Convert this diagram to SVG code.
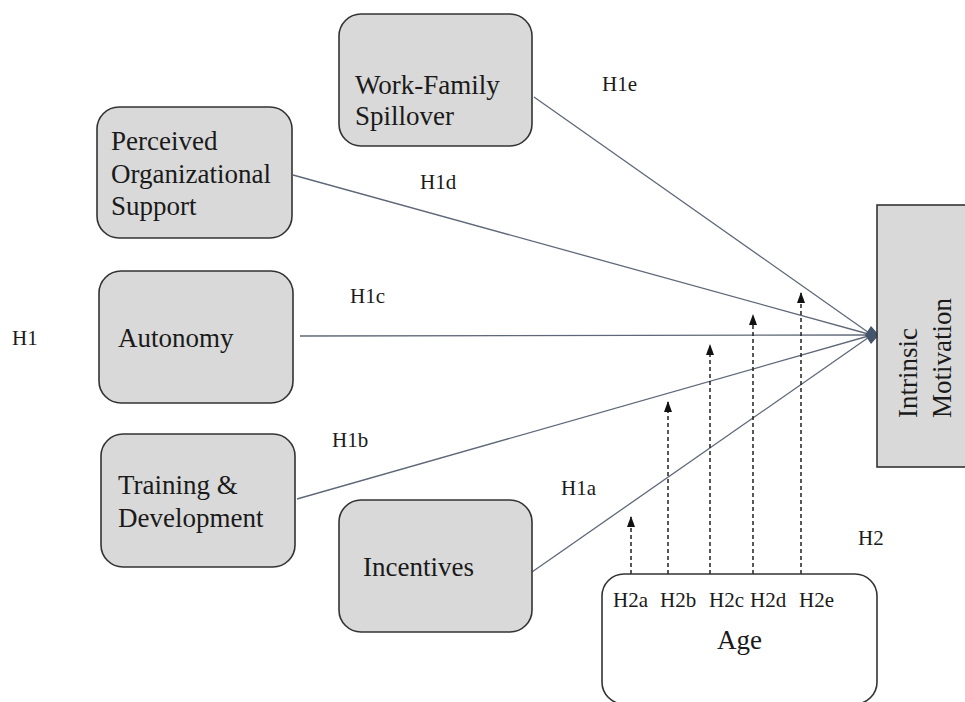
<svg xmlns="http://www.w3.org/2000/svg" width="965" height="702" viewBox="0 0 965 702">
  <style>
    .box { fill: #d9d9d9; stroke: #333333; stroke-width: 1.6; }
    .agebox { fill: #ffffff; stroke: #333333; stroke-width: 1.6; }
    .lbl { font-family: "Liberation Serif", "Times New Roman", serif; font-size: 27px; fill: #1a1a1a; }
    .hyp { font-family: "Liberation Serif", "Times New Roman", serif; font-size: 21px; fill: #1a1a1a; }
    .path { stroke: #5f6878; stroke-width: 1.3; fill: none; }
    .mod { stroke: #222222; stroke-width: 1.5; stroke-dasharray: 4 3; fill: none; marker-end: url(#tri); }
  </style>
  <defs>
    <marker id="tri" viewBox="0 0 11 8" refX="10" refY="4" markerWidth="11" markerHeight="8" markerUnits="userSpaceOnUse" orient="auto">
      <path d="M0,0 L11,4 L0,8 Z" fill="#111111"/>
    </marker>
  </defs>

  <rect width="965" height="702" fill="#ffffff"/>

  <!-- predictor paths and moderation arrows -->
  <g id="connectors">
    <line class="path" x1="534" y1="97" x2="872" y2="335"/>
    <line class="path" x1="293" y1="175" x2="872" y2="335"/>
    <line class="path" x1="300" y1="336" x2="872" y2="335"/>
    <line class="path" x1="297" y1="499" x2="872" y2="335"/>
    <line class="path" x1="532" y1="572" x2="872" y2="335"/>
    <polygon points="879,335 871,326 865,335 871,344" fill="#44546a"/>

    <line class="mod" x1="631" y1="574" x2="631" y2="517"/>
    <line class="mod" x1="668" y1="574" x2="668" y2="402"/>
    <line class="mod" x1="710" y1="574" x2="710" y2="345"/>
    <line class="mod" x1="753" y1="574" x2="753" y2="315"/>
    <line class="mod" x1="801" y1="574" x2="801" y2="293"/>

    <text class="hyp" x="602" y="91">H1e</text>
    <text class="hyp" x="420" y="189">H1d</text>
    <text class="hyp" x="350" y="303">H1c</text>
    <text class="hyp" x="332" y="447">H1b</text>
    <text class="hyp" x="561" y="495">H1a</text>
    <text class="hyp" x="12" y="345">H1</text>
    <text class="hyp" x="858" y="545">H2</text>
  </g>

  <g id="work-family">
    <rect class="box" x="339" y="14" width="193" height="132" rx="22"/>
    <text class="lbl" x="355" y="94">Work-Family</text>
    <text class="lbl" x="355" y="125">Spillover</text>
  </g>

  <g id="org-support">
    <rect class="box" x="97" y="107" width="195" height="131" rx="22"/>
    <text class="lbl" x="111" y="150">Perceived</text>
    <text class="lbl" x="111" y="183">Organizational</text>
    <text class="lbl" x="111" y="215">Support</text>
  </g>

  <g id="autonomy">
    <rect class="box" x="99" y="271" width="194" height="132" rx="22"/>
    <text class="lbl" x="118" y="347">Autonomy</text>
  </g>

  <g id="training">
    <rect class="box" x="101" y="434" width="194" height="133" rx="22"/>
    <text class="lbl" x="118" y="494">Training &amp;</text>
    <text class="lbl" x="118" y="527">Development</text>
  </g>

  <g id="incentives">
    <rect class="box" x="339" y="500" width="193" height="132" rx="22"/>
    <text class="lbl" x="363" y="576">Incentives</text>
  </g>

  <g id="intrinsic-motivation">
    <rect class="box" x="877" y="205" width="100" height="262"/>
    <text class="lbl" transform="translate(917,418) rotate(-90)">Intrinsic</text>
    <text class="lbl" transform="translate(951,418) rotate(-90)">Motivation</text>
  </g>

  <g id="age">
    <rect class="agebox" x="602" y="574" width="275" height="130" rx="22"/>
    <text class="hyp" x="613" y="607">H2a</text>
    <text class="hyp" x="660" y="607">H2b</text>
    <text class="hyp" x="709" y="607">H2c</text>
    <text class="hyp" x="750" y="607">H2d</text>
    <text class="hyp" x="799" y="607">H2e</text>
    <text class="lbl" x="717" y="649">Age</text>
  </g>
</svg>
